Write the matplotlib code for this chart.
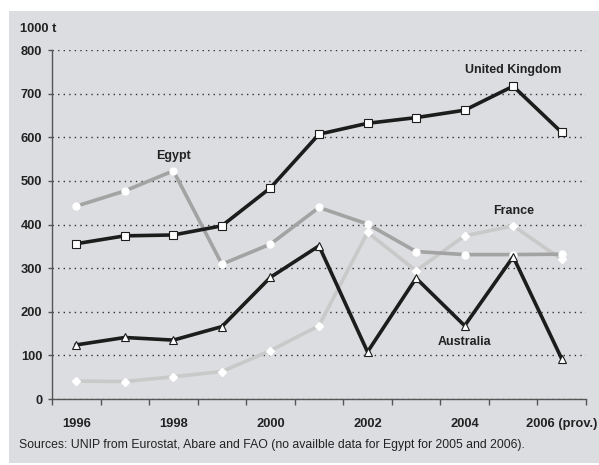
import matplotlib.pyplot as plt
from matplotlib.patches import Rectangle
import numpy as np

years = ["1996", "1997", "1998", "1999", "2000", "2001", "2002", "2003", "2004", "2005", "2006 (prov.)"]
uk = [356, 374, 376, 397, 484, 607, 632, 645, 662, 717, 611]
egypt = [442, 477, 523, 309, 355, 439, 401, 338, 331, 331, 332]
france = [41, 40, 51, 63, 111, 168, 382, 294, 374, 397, 320]
australia = [124, 141, 135, 166, 279, 351, 108, 277, 168, 326, 92]
yticks = [0, 100, 200, 300, 400, 500, 600, 700, 800]

bold = {"family": ["Liberation Sans", "DejaVu Sans"], "weight": "bold"}

fig = plt.figure(figsize=(5.99, 4.65), dpi=100, facecolor="white")
# gray panel behind everything
fig.patches.append(Rectangle((9 / 599, 2 / 465), 590 / 599, 452 / 465,
                             transform=fig.transFigure, facecolor="#dcdde0",
                             edgecolor="none", zorder=-10))
ax = fig.add_axes([52 / 599, 1 - 399 / 465, 534 / 599, 349 / 465])
ax.set_facecolor("none")

x = np.arange(len(years))
ax.plot(x, france, color="#c9c9c9", lw=2.6, marker="D", ms=4.5,
        mfc="white", mec="white", zorder=2)
ax.plot(x, egypt, color="#a3a3a3", lw=2.6, marker="o", ms=5,
        mfc="white", mec="white", zorder=3)
ax.plot(x, australia, color="#1c1c1c", lw=2.6, marker="^", ms=6,
        mfc="white", mec="#1c1c1c", mew=0.8, zorder=4)
ax.plot(x, uk, color="#1c1c1c", lw=2.6, marker="s", ms=6,
        mfc="white", mec="#1c1c1c", mew=0.8, zorder=5)

ax.text(9, 755, "United Kingdom", ha="center", va="center", fontsize=9, color="#222222", **bold)
ax.text(2, 557, "Egypt", ha="center", va="center", fontsize=9, color="#222222", **bold)
ax.text(9, 431, "France", ha="center", va="center", fontsize=9, color="#222222", **bold)
ax.text(8, 131, "Australia", ha="center", va="center", fontsize=9, color="#222222", **bold)

ax.set_xlim(-0.5, len(years) - 0.5)
ax.set_ylim(0, 800)
ax.set_yticks(yticks)
ax.set_yticklabels([str(v) for v in yticks], fontsize=9.3, color="#222222", **bold)
ax.yaxis.grid(True, linestyle=(0, (1, 3)), color="#333333", lw=1)
ax.set_axisbelow(True)

ax.set_xticks(np.arange(-0.5, len(years), 1), minor=True)
ax.set_xticks(x[::2])
ax.set_xticklabels(years[::2], fontsize=9.3, color="#222222", **bold)
ax.tick_params(axis="x", which="major", length=0, pad=14)
ax.tick_params(axis="x", which="minor", length=4, color="#555555", width=1)
ax.tick_params(axis="y", length=3, color="#555555", width=1, pad=4)

for s in ["top", "right"]:
    ax.spines[s].set_visible(False)
for s in ["left", "bottom"]:
    ax.spines[s].set_color("#555555")
    ax.spines[s].set_linewidth(1)

fig.text(20 / 599, 1 - 29 / 465, "1000 t", fontsize=9.3, color="#222222", va="center", **bold)
fig.text(19 / 599, 1 - 445 / 465,
         "Sources: UNIP from Eurostat, Abare and FAO (no availble data for Egypt for 2005 and 2006).",
         fontsize=8.8, color="#222222", va="center",
         family=["Liberation Sans", "DejaVu Sans"])

fig.savefig("out.png", dpi=100, facecolor="white")
